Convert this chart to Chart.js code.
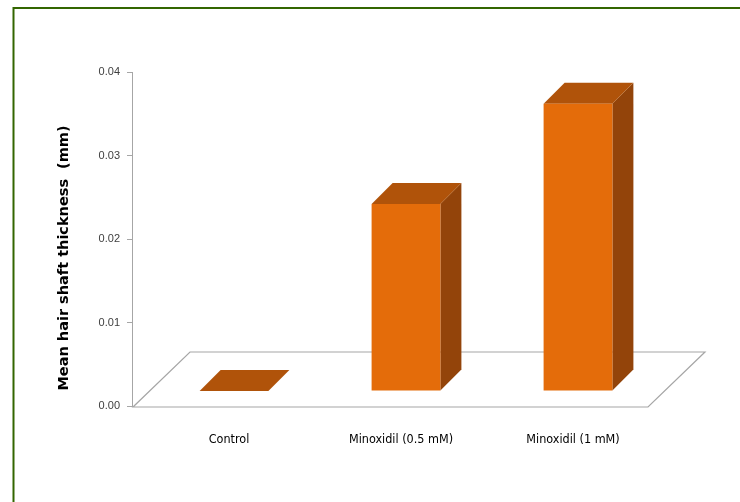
<!DOCTYPE html>
<html>
<head>
<meta charset="utf-8">
<script src="https://cdn.jsdelivr.net/npm/chart.js@4"></script>
<style>
  body { margin: 0; background: #fff; }
  canvas { display: block; }
</style>
</head>
<body>
<canvas id="chart" width="740" height="502"></canvas>
<script>
// ===== DATA =====
const categories = ["Control", "Minoxidil (0.5 mM)", "Minoxidil (1 mM)"];
const thickness = [0, 0.0224, 0.0344];
const yTicks = [0, 0.01, 0.02, 0.03, 0.04];
const yTitle = "Mean hair shaft thickness  (mm)";

// ===== 3D LOOK =====
const SHIFT_X = 16, SHIFT_Y = -15;   // bars stand a bit back on the floor
const DEPTH = 21;                    // bar depth
const FLOOR_DX = 57, FLOOR_DY = 55;  // floor depth
const frontColor = "#e46c0a", topColor = "#b0530a", sideColor = "#93440a";

function poly(ctx, pts, fill) {
    ctx.beginPath();
    ctx.moveTo(pts[0][0], pts[0][1]);
    pts.slice(1).forEach(p => ctx.lineTo(p[0], p[1]));
    ctx.closePath();
    ctx.fillStyle = fill;
    ctx.fill();
}

// green frame + axis title (title sits a bit below the axis middle, like the original)
const frame = {
    id: "frame",
    beforeDraw(chart) {
        const ctx = chart.ctx;
        ctx.save();
        ctx.fillStyle = "#fff";
        ctx.fillRect(0, 0, chart.width, chart.height);
        ctx.strokeStyle = "#336600";
        ctx.lineWidth = 2;
        ctx.strokeRect(13.5, 8, 900, 700);
        ctx.restore();
    },
    afterDraw(chart) {
        const ctx = chart.ctx;
        ctx.save();
        ctx.translate(64, 258);
        ctx.rotate(-Math.PI / 2);
        ctx.font = "bold 14.5px 'DejaVu Sans', sans-serif";
        ctx.fillStyle = "#000";
        ctx.textAlign = "center";
        ctx.textBaseline = "middle";
        ctx.fillText(yTitle, 0, 0);
        ctx.restore();
    }
};

const depth3d = {
    id: "depth3d",
    beforeDatasetsDraw(chart) {
        const { ctx, chartArea: a, scales: { y } } = chart;
        const y0 = y.getPixelForValue(0) + 1;
        ctx.save();
        // floor
        ctx.beginPath();
        ctx.moveTo(a.left + 1, y0);
        ctx.lineTo(a.right, y0);
        ctx.lineTo(a.right + FLOOR_DX, y0 - FLOOR_DY);
        ctx.lineTo(a.left + 1 + FLOOR_DX, y0 - FLOOR_DY);
        ctx.closePath();
        ctx.strokeStyle = "#a6a6a6";
        ctx.lineWidth = 1.2;
        ctx.stroke();
        // tops and sides
        chart.getDatasetMeta(0).data.forEach(bar => {
            const p = bar.getProps(["x", "y", "base", "width"], true);
            const l = p.x - p.width / 2 + SHIFT_X, r = p.x + p.width / 2 + SHIFT_X;
            const t = p.y + SHIFT_Y, b = p.base + SHIFT_Y;
            if (b - t > 0.5) {
                poly(ctx, [[r, t], [r + DEPTH, t - DEPTH], [r + DEPTH, b - DEPTH], [r, b]], sideColor);
            }
            poly(ctx, [[l, t], [r, t], [r + DEPTH, t - DEPTH], [l + DEPTH, t - DEPTH]], topColor);
        });
        ctx.restore();
    },
    beforeDatasetDraw(chart) {
        chart.ctx.save();
        chart.ctx.translate(SHIFT_X, SHIFT_Y);
    },
    afterDatasetDraw(chart) {
        chart.ctx.restore();
    }
};

new Chart(document.getElementById("chart"), {
    type: "bar",
    data: {
        labels: categories,
        datasets: [{
            data: thickness,
            backgroundColor: frontColor,
            borderWidth: 0,
            barPercentage: 0.4,
            categoryPercentage: 1.0
        }]
    },
    options: {
        responsive: false,
        animation: false,
        layout: { padding: { left: 50, right: 92, top: 72, bottom: 0 } },
        plugins: {
            legend: { display: false },
            tooltip: { enabled: false }
        },
        scales: {
            x: {
                grid: { display: false },
                border: { display: false },
                ticks: {
                    color: "#000",
                    font: { family: "'DejaVu Sans Condensed', sans-serif", size: 12.5 },
                    padding: 18,
                    labelOffset: 11,
                    maxRotation: 0
                },
                afterFit(scale) { scale.height = 96; }
            },
            y: {
                min: 0,
                max: 0.04,
                afterBuildTicks(scale) { scale.ticks = yTicks.map(v => ({ value: v })); },
                grid: { drawOnChartArea: false, tickLength: 5, color: "#a6a6a6" },
                border: { color: "#a6a6a6" },
                ticks: {
                    color: "#404040",
                    font: { family: "'Liberation Sans', Arial, sans-serif", size: 11 },
                    padding: 7,
                    callback: v => v.toFixed(2)
                },
                title: { display: false },
                afterFit(scale) { scale.width = 82; }
            }
        }
    },
    plugins: [frame, depth3d]
});
</script>
</body>
</html>
